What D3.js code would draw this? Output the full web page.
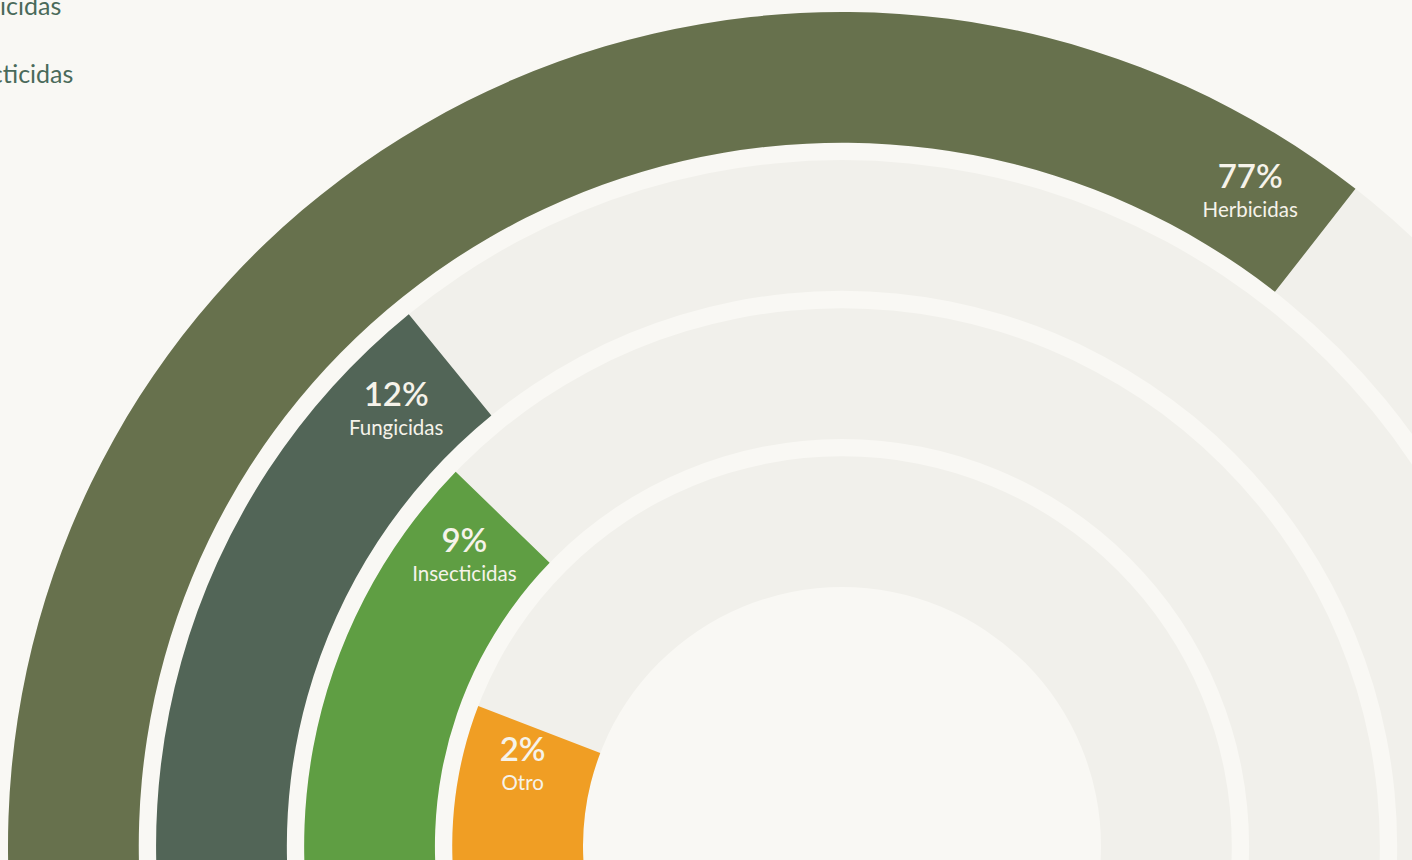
<!DOCTYPE html>
<html>
<head>
<meta charset="utf-8">
<script src="https://cdn.jsdelivr.net/npm/d3@7"></script>
<style>
body { margin: 0; background: #f9f8f4; overflow: hidden; }
text { font-family: Lato, "Open Sans", sans-serif; }
</style>
</head>
<body>
<div id="chart"></div>
<script>
var categories = ["Herbicidas", "Fungicidas", "Insecticidas", "Otro"];
var values = [77, 12, 9, 2];
var colors = ["#67714d", "#526557", "#5f9e43", "#f09e24"];

var w = 1412;
var h = 860;
var cx = 842, cy = 846;
var innerR = 259, outerR = 834;
var deg = Math.PI / 180;

var data = categories.map(function(c, i) {
    return {cat: c, value: values[i], color: colors[i]};
});

// rings, inner ring = smallest share
var rscale = d3.scaleBand()
    .domain(categories.slice().reverse())
    .range([innerR, outerR])
    .paddingInner(0.117);

// angle of the bar end
var ascale = d3.scaleSqrt()
    .domain([0, 100])
    .range([-89.5 * deg, 55.8 * deg]);

var barStart = -Math.PI;

var svg = d3.select("#chart")
    .append("svg")
    .attr("width", w)
    .attr("height", h)
    .style("display", "block");

svg.append("rect")
    .attr("width", w)
    .attr("height", h)
    .attr("fill", "#f9f8f4");

var g = svg.append("g")
    .attr("transform", "translate(" + cx + "," + cy + ")");

var arc = d3.arc()
    .innerRadius(function(d) { return rscale(d.cat); })
    .outerRadius(function(d) { return rscale(d.cat) + rscale.bandwidth(); });

// background tracks
g.selectAll("path.track")
    .data(data)
    .enter()
    .append("path")
    .attr("class", "track")
    .attr("d", function(d) {
        return arc({cat: d.cat, startAngle: -Math.PI, endAngle: Math.PI});
    })
    .attr("fill", "#f1f0eb");

// bars
g.selectAll("path.bar")
    .data(data)
    .enter()
    .append("path")
    .attr("class", "bar")
    .attr("d", function(d) {
        return arc({cat: d.cat, startAngle: barStart, endAngle: ascale(d.value)});
    })
    .attr("fill", function(d) { return d.color; });

// labels near the end of each bar
var labels = g.selectAll("g.label")
    .data(data)
    .enter()
    .append("g")
    .attr("class", "label")
    .attr("transform", function(d) {
        var a = ascale(d.value) - 6.2 * deg;
        var r = rscale(d.cat) + rscale.bandwidth() / 2 + 6;
        return "translate(" + (r * Math.sin(a)) + "," + (-r * Math.cos(a)) + ")";
    });

labels.append("text")
    .attr("y", 0)
    .attr("text-anchor", "middle")
    .attr("font-size", "33px")
    .attr("font-weight", 600)
    .attr("fill", "#f6f3ea")
    .text(function(d) { return d.value + "%"; });

labels.append("text")
    .attr("y", 29)
    .attr("text-anchor", "middle")
    .attr("font-size", "20.5px")
    .attr("fill", "#f6f3ea")
    .text(function(d) { return d.cat; });

// legend (partly outside the view on the left)
var legendX = -54, legendY = -52.7, legendStep = 67.7;
svg.selectAll("text.legend")
    .data(data)
    .enter()
    .append("text")
    .attr("class", "legend")
    .attr("x", legendX)
    .attr("y", function(d, i) { return legendY + i * legendStep; })
    .attr("font-size", "25px")
    .attr("fill", "#4a6a5a")
    .text(function(d) { return d.cat; });
</script>
</body>
</html>
